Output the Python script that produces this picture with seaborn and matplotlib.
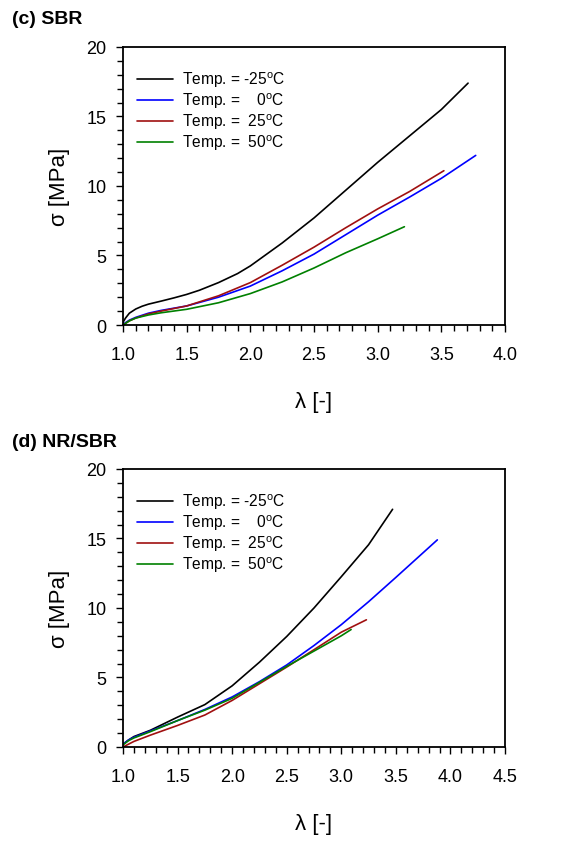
import numpy as np
import pandas as pd
import matplotlib
matplotlib.use("Agg")
import matplotlib.pyplot as plt
import seaborn as sns
from matplotlib.ticker import MultipleLocator

# ---------------- data ----------------
labels = ["Temp. = -25$^{\\rm o}$C", "Temp. =    0$^{\\rm o}$C",
          "Temp. =  25$^{\\rm o}$C", "Temp. =  50$^{\\rm o}$C"]
colors = ["#000000", "#0000ff", "#a01010", "#008000"]

# (c) SBR
sbr_m25_x = [1.0, 1.02, 1.05, 1.1, 1.15, 1.2, 1.3, 1.4, 1.5, 1.6, 1.75, 1.9, 2.0, 2.25, 2.5, 2.75, 3.0, 3.25, 3.5, 3.71]
sbr_m25_y = [0.2, 0.5, 0.85, 1.15, 1.35, 1.5, 1.72, 1.95, 2.2, 2.5, 3.05, 3.7, 4.25, 5.9, 7.7, 9.7, 11.7, 13.6, 15.5, 17.4]
sbr_0_x = [1.0, 1.05, 1.1, 1.2, 1.3, 1.5, 1.75, 2.0, 2.25, 2.5, 2.75, 3.0, 3.25, 3.5, 3.77]
sbr_0_y = [0.05, 0.35, 0.55, 0.85, 1.05, 1.37, 2.0, 2.8, 3.9, 5.1, 6.5, 7.9, 9.2, 10.55, 12.2]
sbr_25_x = [1.0, 1.05, 1.1, 1.2, 1.3, 1.5, 1.75, 2.0, 2.25, 2.5, 2.75, 3.0, 3.25, 3.52]
sbr_25_y = [0.0, 0.3, 0.5, 0.8, 1.0, 1.37, 2.1, 3.05, 4.3, 5.6, 7.0, 8.35, 9.6, 11.1]
sbr_50_x = [1.0, 1.05, 1.1, 1.2, 1.3, 1.5, 1.75, 2.0, 2.25, 2.5, 2.75, 3.0, 3.21]
sbr_50_y = [0.0, 0.3, 0.5, 0.72, 0.88, 1.13, 1.6, 2.26, 3.1, 4.1, 5.2, 6.2, 7.07]

# (d) NR/SBR
nrsbr_m25_x = [1.0, 1.05, 1.1, 1.25, 1.5, 1.75, 2.0, 2.25, 2.5, 2.75, 3.0, 3.25, 3.47]
nrsbr_m25_y = [0.2, 0.5, 0.75, 1.2, 2.15, 3.05, 4.4, 6.1, 7.95, 10.0, 12.25, 14.55, 17.1]
nrsbr_0_x = [1.0, 1.05, 1.1, 1.25, 1.5, 1.75, 2.0, 2.25, 2.5, 2.75, 3.0, 3.25, 3.5, 3.88]
nrsbr_0_y = [0.2, 0.5, 0.7, 1.15, 1.9, 2.7, 3.6, 4.7, 5.9, 7.3, 8.8, 10.45, 12.2, 14.9]
nrsbr_25_x = [1.0, 1.05, 1.1, 1.25, 1.5, 1.75, 2.0, 2.25, 2.5, 2.75, 3.0, 3.23]
nrsbr_25_y = [0.0, 0.2, 0.4, 0.85, 1.55, 2.3, 3.35, 4.55, 5.75, 7.0, 8.26, 9.15]
nrsbr_50_x = [1.0, 1.05, 1.1, 1.25, 1.5, 1.75, 2.0, 2.25, 2.5, 2.75, 3.0, 3.09]
nrsbr_50_y = [0.15, 0.45, 0.65, 1.1, 1.9, 2.65, 3.5, 4.65, 5.8, 6.9, 8.0, 8.45]

panels = [
    ("(c) SBR", [(sbr_m25_x, sbr_m25_y), (sbr_0_x, sbr_0_y), (sbr_25_x, sbr_25_y), (sbr_50_x, sbr_50_y)], 4.0),
    ("(d) NR/SBR", [(nrsbr_m25_x, nrsbr_m25_y), (nrsbr_0_x, nrsbr_0_y), (nrsbr_25_x, nrsbr_25_y), (nrsbr_50_x, nrsbr_50_y)], 4.5),
]

# ---------------- style ----------------
sns.set_style("ticks")
plt.rcParams["font.family"] = ["Liberation Sans", "DejaVu Sans"]
plt.rcParams["mathtext.fontset"] = "custom"
plt.rcParams["mathtext.rm"] = "Liberation Sans"
plt.rcParams["mathtext.it"] = "Liberation Sans:italic"
plt.rcParams["mathtext.bf"] = "Liberation Sans:bold"
for k in ["text.color", "axes.labelcolor", "xtick.color", "ytick.color", "axes.edgecolor"]:
    plt.rcParams[k] = "black"

fig = plt.figure(figsize=(5.71, 8.45), dpi=100)
axes_pos = [[0.2154, 0.6142, 0.669, 0.329], [0.2154, 0.1148, 0.669, 0.329]]
title_y = [1 - 19 / 845, 1 - 443 / 845]

for (title, curves, xmax), pos, ty in zip(panels, axes_pos, title_y):
    ax = fig.add_axes(pos)
    rows = []
    for lab, (xs, ys) in zip(labels, curves):
        for i, (xv, yv) in enumerate(zip(xs, ys)):
            rows.append({"lam": xv, "sigma": yv, "Temp": lab, "order": i})
    df = pd.DataFrame(rows)
    sns.lineplot(data=df, x="lam", y="sigma", hue="Temp", hue_order=labels,
                 palette=colors, sort=False, estimator=None, lw=1.2, ax=ax)
    ax.set_xlim(1.0, xmax)
    ax.set_ylim(0, 20)
    ax.xaxis.set_major_locator(MultipleLocator(0.5))
    ax.xaxis.set_minor_locator(MultipleLocator(0.1))
    ax.yaxis.set_major_locator(MultipleLocator(5))
    ax.yaxis.set_minor_locator(MultipleLocator(1))
    ax.xaxis.set_major_formatter(matplotlib.ticker.FormatStrFormatter("%.1f"))
    ax.tick_params(which="major", direction="out", length=5, width=1.0,
                   labelsize=13, top=False, right=False)
    ax.tick_params(axis="x", which="major", pad=10)
    ax.tick_params(axis="y", which="major", pad=7)
    ax.tick_params(which="minor", direction="out", length=4, width=1.0, top=False, right=False)
    for s in ax.spines.values():
        s.set_visible(True)
        s.set_linewidth(1.3)
        s.set_color("black")
    ax.set_xlabel("λ [-]", fontsize=16, labelpad=20)
    ax.set_ylabel("σ [MPa]", fontsize=16, labelpad=12)
    leg = ax.legend(loc="upper left", bbox_to_anchor=(0.021, 0.94), frameon=False,
                    fontsize=11.2, handlelength=2.3, handletextpad=0.6,
                    labelspacing=0.08, borderaxespad=0.0)
    for line in leg.get_lines():
        line.set_linewidth(1.2)
    fig.text(12 / 571, ty, title, fontsize=14, fontweight="bold", va="center", ha="left")

fig.savefig("out.png", dpi=100)
